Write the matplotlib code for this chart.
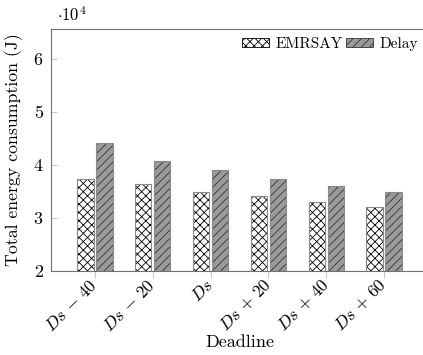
import numpy as np
import matplotlib
matplotlib.use("Agg")
import matplotlib.pyplot as plt
from matplotlib.patches import Patch

plt.rcParams['font.family'] = 'serif'
plt.rcParams['font.serif'] = ['cmr10']
plt.rcParams['mathtext.fontset'] = 'cm'
plt.rcParams['axes.unicode_minus'] = False
plt.rcParams['axes.formatter.use_mathtext'] = True
plt.rcParams['hatch.linewidth'] = 0.6

deadlines = [r'$Ds\,-\,40$', r'$Ds\,-\,20$', r'$Ds$', r'$Ds\,+\,20$', r'$Ds\,+\,40$', r'$Ds\,+\,60$']
emrsay = [3.73, 3.64, 3.50, 3.42, 3.31, 3.21]   # x 10^4 J
delay = [4.42, 4.07, 3.91, 3.73, 3.61, 3.49]    # x 10^4 J
yticks = [2, 3, 4, 5, 6]

fs = 13
fig = plt.figure(figsize=(4.23, 3.55), dpi=100)
ax = fig.add_axes([0.1206, 0.2366, 0.891, 0.6817])

x = np.arange(len(deadlines))
w = 0.28
off = 0.165
edge = '#8a8a8a'

# fill + hatch, then outline in gray
ax.bar(x - off, emrsay, w, color='white', edgecolor='black', hatch='xxxx', linewidth=0)
ax.bar(x - off, emrsay, w, fill=False, edgecolor=edge, linewidth=0.8)
ax.bar(x + off, delay, w, color='#9a9a9a', edgecolor='#333333', hatch='////', linewidth=0)
ax.bar(x + off, delay, w, fill=False, edgecolor=edge, linewidth=0.8)

ax.set_xlim(-0.76, 5.76)
ax.set_ylim(2, 6.57)
ax.set_yticks(yticks)
ax.set_yticklabels([str(t) for t in yticks])
ax.set_xticks(x)
ax.set_xticklabels(deadlines, rotation=45, ha='right', va='center', rotation_mode='anchor')

for s in ax.spines.values():
    s.set_color('#707070')
    s.set_linewidth(0.8)
ax.tick_params(axis='y', direction='in', length=4, color='#c8c8c8', labelsize=fs, pad=6)
ax.tick_params(axis='x', direction='out', length=5, color='#c8c8c8', labelsize=12.5, pad=3)

ax.set_ylabel('Total energy consumption (J)', fontsize=12.8, labelpad=8)
ax.set_xlabel('Deadline', fontsize=fs)
ax.xaxis.set_label_coords(0.5, -0.262)
fig.text(0.135, 0.94, r'$\cdot 10^4$', fontsize=12, ha='left', va='baseline')

handles = [Patch(facecolor='white', edgecolor='black', hatch='xxxx', linewidth=0.6),
           Patch(facecolor='#9a9a9a', edgecolor='#333333', hatch='////', linewidth=0.6)]
ax.legend(handles, ['EMRSAY', 'Delay'], ncol=2, frameon=False, fontsize=11,
          loc='upper right', bbox_to_anchor=(0.987, 0.897), bbox_transform=fig.transFigure,
          handlelength=1.75, handleheight=0.55, handletextpad=0.4, columnspacing=0.25,
          borderaxespad=0, borderpad=0)

fig.savefig('out.png', dpi=100)
